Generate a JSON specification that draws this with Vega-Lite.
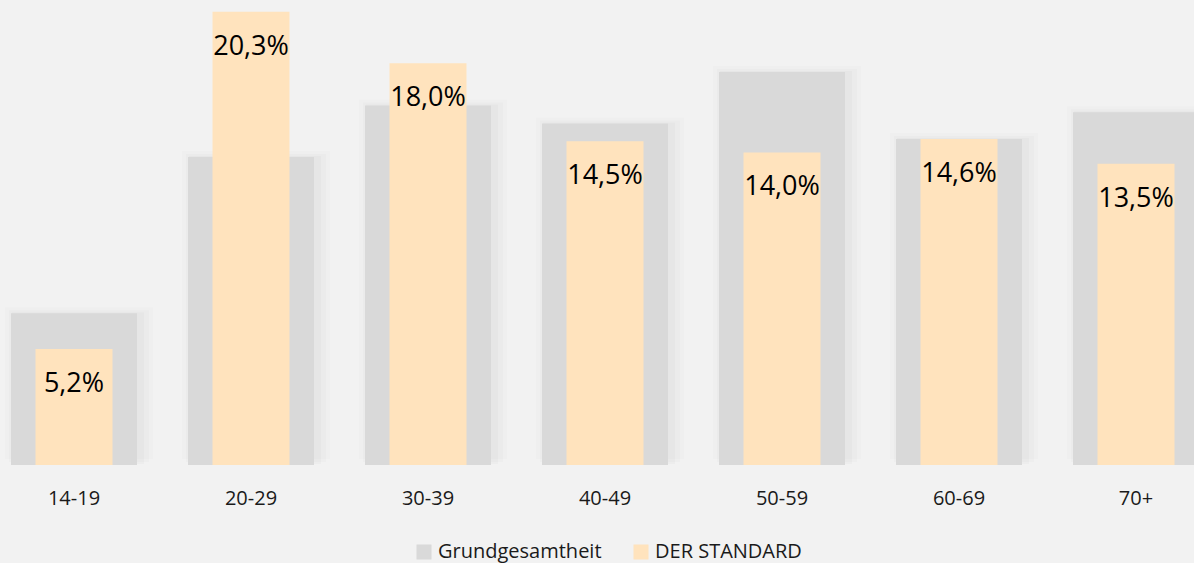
{
  "$schema": "https://vega.github.io/schema/vega-lite/v6.json",
  "width": 1194,
  "height": 465,
  "autosize": "none",
  "padding": {"left": 0, "top": 0, "right": 0, "bottom": 98},
  "background": "#f2f2f2",
  "config": {
    "view": {"stroke": null},
    "font": "Open Sans",
    "locale": {
      "number": {"decimal": ",", "thousands": ".", "grouping": [3], "currency": ["", "%"]}
    }
  },
  "data": {
    "values": [
      {"age": "14-19", "grund": 6.8, "standard": 5.2},
      {"age": "20-29", "grund": 13.8, "standard": 20.3},
      {"age": "30-39", "grund": 16.1, "standard": 18.0},
      {"age": "40-49", "grund": 15.3, "standard": 14.5},
      {"age": "50-59", "grund": 17.6, "standard": 14.0},
      {"age": "60-69", "grund": 14.6, "standard": 14.6},
      {"age": "70+", "grund": 15.8, "standard": 13.5}
    ]
  },
  "encoding": {
    "x": {
      "field": "age",
      "type": "nominal",
      "sort": null,
      "scale": {"range": [-14.5, 1224.5], "paddingInner": 0, "paddingOuter": 0},
      "axis": {
        "title": null,
        "domain": false,
        "ticks": false,
        "labelAngle": 0,
        "labelFontSize": 20,
        "labelColor": "#1a1a1a",
        "labelFont": "Open Sans",
        "labelPadding": 23
      }
    }
  },
  "layer": [
    {
      "mark": {"type": "bar", "size": 148, "color": "#000000", "opacity": 0.012, "xOffset": 5, "yOffset": -6, "y2Offset": 10},
      "encoding": {
        "y": {"field": "grund", "type": "quantitative", "scale": {"domain": [0, 20.83], "range": [465, 0], "nice": false}, "axis": null}
      }
    },
    {
      "mark": {"type": "bar", "size": 140, "color": "#000000", "opacity": 0.015, "xOffset": 5, "yOffset": -3, "y2Offset": 7},
      "encoding": {
        "y": {"field": "grund", "type": "quantitative"}
      }
    },
    {
      "mark": {"type": "bar", "size": 132, "color": "#000000", "opacity": 0.02, "xOffset": 4, "yOffset": -1, "y2Offset": 4},
      "encoding": {
        "y": {"field": "grund", "type": "quantitative"}
      }
    },
    {
      "mark": {"type": "bar", "size": 126},
      "encoding": {
        "y": {"field": "grund", "type": "quantitative"},
        "color": {"datum": "Grundgesamtheit"}
      }
    },
    {
      "mark": {"type": "bar", "size": 77},
      "encoding": {
        "y": {"field": "standard", "type": "quantitative"},
        "color": {
          "datum": "DER STANDARD",
          "scale": {"domain": ["Grundgesamtheit", "DER STANDARD"], "range": ["#d9d9d9", "#ffe3bd"]},
          "legend": {
            "title": null,
            "orient": "none",
            "direction": "horizontal",
            "legendX": 414,
            "legendY": 542,
            "padding": 0,
            "symbolType": "square",
            "symbolSize": 225,
            "symbolStrokeWidth": 0,
            "symbolOpacity": 1,
            "labelFontSize": 20,
            "labelFont": "Open Sans",
            "labelColor": "#1a1a1a",
            "labelOffset": 4,
            "labelLimit": 300,
            "columnPadding": 29
          }
        }
      }
    },
    {
      "mark": {"type": "text", "fontSize": 27, "color": "#000000", "baseline": "alphabetic", "dy": 43, "font": "Open Sans"},
      "encoding": {
        "y": {"field": "standard", "type": "quantitative"},
        "text": {"field": "standard", "type": "quantitative", "format": "$.1f"}
      }
    }
  ]
}
